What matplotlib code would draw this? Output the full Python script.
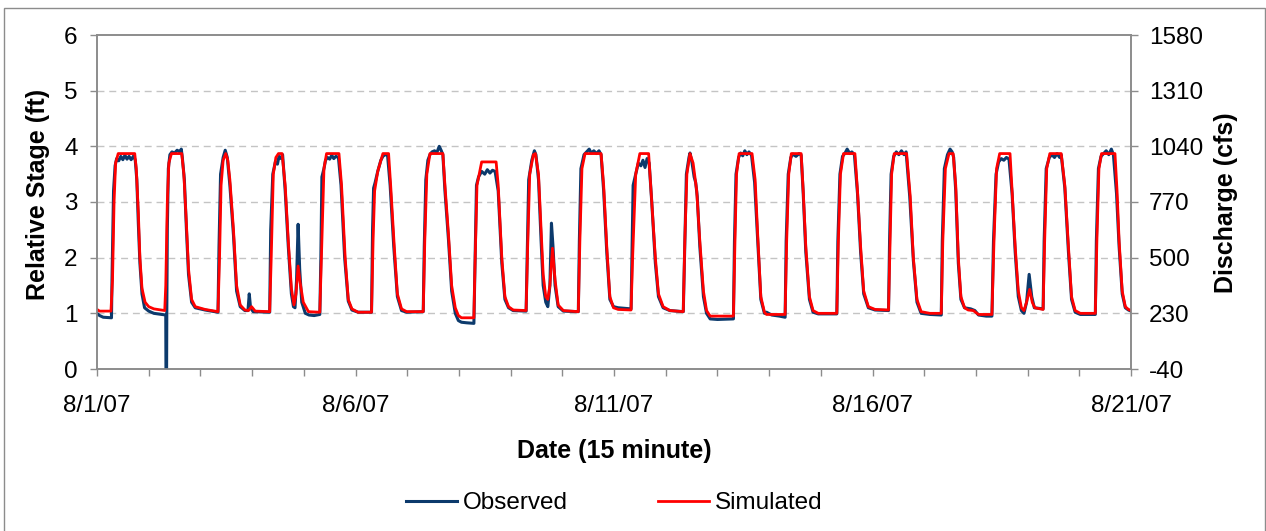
import numpy as np
import matplotlib
matplotlib.use("Agg")
import matplotlib.pyplot as plt
from matplotlib.patches import Rectangle

plt.rcParams['font.family'] = ['Liberation Sans', 'DejaVu Sans']
plt.rcParams['axes.unicode_minus'] = False

# Stage records, (day since 8/1/07, relative stage in ft)
observed = [
    (0.00, 1.00), (0.05, 0.96), (0.12, 0.93), (0.28, 0.92), (0.29, 1.6), (0.32, 3.2), (0.35, 3.65),
    (0.38, 3.78), (0.42, 3.74), (0.46, 3.82), (0.50, 3.76), (0.54, 3.84), (0.58, 3.77), (0.62, 3.82),
    (0.66, 3.76), (0.71, 3.83), (0.74, 3.75), (0.77, 3.4), (0.80, 2.6), (0.83, 1.9), (0.87, 1.35),
    (0.92, 1.1), (1.00, 1.04), (1.10, 1.0), (1.33, 0.97), (1.335, -0.3), (1.345, -0.3), (1.35, 1.0),
    (1.36, 2.5), (1.38, 3.6), (1.41, 3.85), (1.45, 3.9), (1.50, 3.88), (1.55, 3.93), (1.60, 3.9),
    (1.63, 3.95), (1.65, 3.8), (1.69, 3.4), (1.73, 2.5), (1.77, 1.7), (1.83, 1.2), (1.90, 1.1),
    (2.09, 1.06), (2.34, 1.02),
    (2.36, 2.2), (2.39, 3.5), (2.44, 3.8), (2.48, 3.93), (2.52, 3.8), (2.57, 3.3), (2.64, 2.4),
    (2.70, 1.4), (2.77, 1.12), (2.86, 1.05), (2.92, 1.05), (2.945, 1.35), (2.97, 1.1), (3.02, 1.03),
    (3.34, 1.02),
    (3.36, 2.5), (3.40, 3.5), (3.45, 3.72), (3.49, 3.68), (3.52, 3.82), (3.56, 3.78), (3.59, 3.85),
    (3.64, 3.2), (3.70, 2.2), (3.76, 1.35), (3.80, 1.12), (3.83, 1.1), (3.86, 1.6), (3.89, 2.6),
    (3.92, 1.8), (3.96, 1.2), (4.03, 1.0), (4.10, 0.97), (4.20, 0.96), (4.31, 0.98),
    (4.33, 2.0), (4.35, 3.45), (4.39, 3.6), (4.42, 3.75), (4.46, 3.8), (4.50, 3.77), (4.54, 3.84),
    (4.58, 3.78), (4.62, 3.82), (4.67, 3.8), (4.72, 3.3), (4.79, 2.0), (4.86, 1.22), (4.93, 1.06),
    (5.05, 1.02), (5.31, 1.02),
    (5.33, 2.5), (5.35, 3.25), (5.38, 3.35), (5.43, 3.55), (5.49, 3.75), (5.53, 3.82), (5.57, 3.85),
    (5.62, 3.84), (5.67, 3.3), (5.74, 2.2), (5.81, 1.3), (5.89, 1.05), (5.99, 1.02), (6.31, 1.03),
    (6.33, 2.2), (6.36, 3.4), (6.40, 3.75), (6.44, 3.85), (6.48, 3.9), (6.53, 3.92), (6.57, 3.88),
    (6.62, 4.0), (6.66, 3.92), (6.69, 3.85), (6.73, 3.2), (6.80, 2.3), (6.86, 1.4), (6.93, 1.0),
    (6.99, 0.87), (7.05, 0.84), (7.15, 0.83), (7.29, 0.82),
    (7.31, 1.8), (7.34, 3.3), (7.38, 3.45), (7.44, 3.55), (7.50, 3.5), (7.55, 3.58), (7.60, 3.52),
    (7.65, 3.57), (7.70, 3.55), (7.76, 3.2), (7.83, 1.9), (7.89, 1.25), (7.96, 1.1), (8.05, 1.05),
    (8.30, 1.04),
    (8.32, 2.0), (8.35, 3.4), (8.41, 3.75), (8.46, 3.92), (8.49, 3.85), (8.54, 3.4), (8.59, 2.3),
    (8.63, 1.5), (8.68, 1.2), (8.72, 1.12), (8.76, 1.5), (8.79, 2.62), (8.82, 2.2), (8.86, 1.5),
    (8.92, 1.12), (9.02, 1.04), (9.31, 1.03),
    (9.33, 2.3), (9.36, 3.6), (9.42, 3.85), (9.47, 3.9), (9.52, 3.95), (9.56, 3.88), (9.61, 3.92),
    (9.66, 3.87), (9.71, 3.92), (9.75, 3.85), (9.80, 3.2), (9.86, 2.1), (9.92, 1.25), (9.99, 1.12),
    (10.08, 1.1), (10.33, 1.08),
    (10.35, 2.2), (10.37, 3.3), (10.42, 3.5), (10.47, 3.7), (10.52, 3.65), (10.56, 3.75), (10.60, 3.62),
    (10.64, 3.78), (10.68, 3.7), (10.73, 3.0), (10.80, 1.9), (10.86, 1.3), (10.95, 1.1), (11.08, 1.05),
    (11.34, 1.03),
    (11.37, 2.3), (11.40, 3.5), (11.45, 3.8), (11.47, 3.88), (11.51, 3.7), (11.55, 3.45), (11.58, 3.35),
    (11.61, 3.1), (11.66, 2.2), (11.73, 1.3), (11.79, 1.0), (11.86, 0.9), (12.00, 0.89), (12.31, 0.9),
    (12.33, 2.3), (12.36, 3.5), (12.41, 3.8), (12.45, 3.88), (12.49, 3.83), (12.53, 3.92), (12.57, 3.85),
    (12.61, 3.9), (12.66, 3.84), (12.72, 3.35), (12.78, 2.3), (12.84, 1.25), (12.91, 1.0), (12.95, 1.02),
    (13.05, 0.97), (13.20, 0.95), (13.31, 0.93),
    (13.33, 2.3), (13.37, 3.5), (13.42, 3.8), (13.46, 3.86), (13.52, 3.82), (13.58, 3.87), (13.62, 3.84),
    (13.66, 3.15), (13.71, 2.1), (13.78, 1.25), (13.85, 1.02), (13.95, 0.99), (14.31, 0.99),
    (14.33, 2.3), (14.37, 3.5), (14.42, 3.82), (14.47, 3.88), (14.51, 3.95), (14.56, 3.87), (14.60, 3.9),
    (14.65, 3.85), (14.71, 3.15), (14.77, 2.1), (14.83, 1.35), (14.92, 1.1), (15.05, 1.06), (15.31, 1.05),
    (15.33, 2.3), (15.36, 3.5), (15.41, 3.82), (15.46, 3.9), (15.51, 3.85), (15.56, 3.92), (15.61, 3.85),
    (15.65, 3.9), (15.72, 3.1), (15.79, 1.95), (15.86, 1.2), (15.94, 1.0), (16.11, 0.98), (16.33, 0.97),
    (16.35, 2.3), (16.39, 3.6), (16.45, 3.85), (16.50, 3.95), (16.54, 3.9), (16.57, 3.8), (16.61, 3.2),
    (16.66, 1.9), (16.71, 1.25), (16.78, 1.1), (16.90, 1.08), (16.98, 1.05), (17.05, 0.97), (17.20, 0.95),
    (17.31, 0.95),
    (17.34, 2.3), (17.39, 3.5), (17.44, 3.72), (17.49, 3.78), (17.54, 3.75), (17.59, 3.8), (17.64, 3.77),
    (17.70, 3.15), (17.76, 2.1), (17.82, 1.3), (17.88, 1.05), (17.93, 1.0), (17.98, 1.2), (18.03, 1.7),
    (18.08, 1.3), (18.13, 1.1), (18.30, 1.08),
    (18.32, 2.3), (18.36, 3.6), (18.42, 3.8), (18.47, 3.85), (18.52, 3.8), (18.57, 3.87), (18.62, 3.8),
    (18.65, 3.85), (18.72, 3.25), (18.79, 2.1), (18.85, 1.25), (18.92, 1.02), (19.02, 0.98), (19.31, 0.98),
    (19.33, 2.3), (19.37, 3.6), (19.42, 3.82), (19.47, 3.87), (19.52, 3.92), (19.57, 3.85), (19.62, 3.95),
    (19.66, 3.85), (19.72, 3.15), (19.77, 2.2), (19.83, 1.35), (19.89, 1.1), (19.95, 1.06), (20.00, 1.04),
]

simulated = [
    (0.00, 1.07), (0.05, 1.04), (0.27, 1.04), (0.30, 1.6), (0.33, 3.0), (0.36, 3.7), (0.41, 3.87),
    (0.73, 3.87), (0.76, 3.6), (0.80, 2.8), (0.83, 2.0), (0.87, 1.45), (0.93, 1.2), (1.00, 1.12),
    (1.10, 1.08), (1.31, 1.05),
    (1.33, 1.5), (1.36, 3.0), (1.39, 3.7), (1.44, 3.87), (1.64, 3.87), (1.68, 3.5), (1.73, 2.6),
    (1.77, 1.8), (1.83, 1.25), (1.90, 1.12), (2.09, 1.07), (2.34, 1.03),
    (2.37, 2.0), (2.40, 3.3), (2.44, 3.75), (2.49, 3.87), (2.53, 3.75), (2.57, 3.4), (2.64, 2.5),
    (2.70, 1.5), (2.77, 1.15), (2.86, 1.06), (2.93, 1.05), (2.99, 1.12), (3.06, 1.04), (3.34, 1.03),
    (3.37, 2.0), (3.41, 3.5), (3.46, 3.8), (3.51, 3.87), (3.58, 3.87), (3.64, 3.3), (3.70, 2.3),
    (3.76, 1.45), (3.81, 1.15), (3.85, 1.35), (3.89, 1.85), (3.93, 1.55), (3.99, 1.2), (4.09, 1.03),
    (4.31, 1.02),
    (4.35, 2.3), (4.39, 3.6), (4.44, 3.87), (4.68, 3.87), (4.73, 3.3), (4.80, 2.0), (4.86, 1.25),
    (4.93, 1.08), (5.05, 1.02), (5.31, 1.02),
    (5.34, 2.3), (5.37, 3.2), (5.43, 3.55), (5.53, 3.87), (5.64, 3.87), (5.68, 3.3), (5.75, 2.2),
    (5.81, 1.35), (5.89, 1.08), (5.99, 1.03), (6.31, 1.03),
    (6.34, 2.3), (6.38, 3.5), (6.44, 3.87), (6.69, 3.87), (6.73, 3.3), (6.80, 2.4), (6.86, 1.5),
    (6.93, 1.1), (6.99, 0.96), (7.05, 0.92), (7.29, 0.92),
    (7.31, 1.8), (7.35, 3.3), (7.44, 3.72), (7.72, 3.72), (7.76, 3.3), (7.83, 2.0), (7.89, 1.3),
    (7.96, 1.12), (8.05, 1.06), (8.30, 1.05),
    (8.33, 2.2), (8.37, 3.5), (8.44, 3.85), (8.48, 3.87), (8.54, 3.5), (8.59, 2.5), (8.63, 1.7),
    (8.68, 1.3), (8.72, 1.25), (8.76, 1.5), (8.81, 2.17), (8.86, 1.6), (8.92, 1.15), (9.02, 1.05),
    (9.31, 1.03),
    (9.34, 2.3), (9.38, 3.6), (9.44, 3.87), (9.75, 3.87), (9.80, 3.3), (9.86, 2.2), (9.92, 1.3),
    (9.99, 1.1), (10.08, 1.07), (10.33, 1.06),
    (10.36, 2.0), (10.42, 3.5), (10.50, 3.87), (10.67, 3.87), (10.73, 3.0), (10.80, 2.0), (10.86, 1.35),
    (10.95, 1.12), (11.08, 1.05), (11.34, 1.03),
    (11.37, 2.3), (11.41, 3.5), (11.47, 3.87), (11.53, 3.7), (11.60, 3.2), (11.66, 2.3), (11.73, 1.4),
    (11.79, 1.05), (11.86, 0.95), (12.31, 0.95),
    (12.34, 2.3), (12.37, 3.5), (12.42, 3.87), (12.67, 3.87), (12.73, 3.4), (12.78, 2.4), (12.84, 1.3),
    (12.91, 1.02), (12.95, 0.98), (13.31, 0.98),
    (13.34, 2.3), (13.38, 3.5), (13.43, 3.87), (13.62, 3.87), (13.66, 3.2), (13.71, 2.2), (13.78, 1.3),
    (13.85, 1.05), (13.95, 1.0), (14.31, 1.0),
    (14.34, 2.3), (14.38, 3.5), (14.44, 3.87), (14.66, 3.87), (14.71, 3.2), (14.77, 2.2), (14.83, 1.4),
    (14.92, 1.12), (15.05, 1.07), (15.31, 1.06),
    (15.34, 2.3), (15.37, 3.5), (15.42, 3.87), (15.66, 3.87), (15.73, 3.1), (15.79, 2.0), (15.86, 1.25),
    (15.94, 1.03), (16.11, 1.0), (16.33, 1.0),
    (16.36, 2.3), (16.41, 3.6), (16.48, 3.87), (16.56, 3.87), (16.61, 3.3), (16.66, 2.0), (16.71, 1.3),
    (16.78, 1.1), (16.85, 1.06), (16.95, 1.05), (17.05, 0.98), (17.31, 0.98),
    (17.35, 2.3), (17.40, 3.6), (17.46, 3.87), (17.66, 3.87), (17.70, 3.2), (17.76, 2.2), (17.82, 1.4),
    (17.88, 1.1), (17.93, 1.05), (17.98, 1.2), (18.04, 1.43), (18.09, 1.2), (18.14, 1.1), (18.30, 1.07),
    (18.33, 2.3), (18.37, 3.6), (18.43, 3.87), (18.65, 3.87), (18.72, 3.3), (18.79, 2.2), (18.85, 1.3),
    (18.92, 1.05), (19.02, 1.0), (19.31, 1.0),
    (19.34, 2.3), (19.38, 3.6), (19.43, 3.87), (19.69, 3.87), (19.73, 3.2), (19.77, 2.3), (19.83, 1.4),
    (19.89, 1.12), (19.95, 1.07), (20.00, 1.05),
]

date_ticks = [0, 5, 10, 15, 20]
date_labels = ['8/1/07', '8/6/07', '8/11/07', '8/16/07', '8/21/07']
stage_ticks = [0, 1, 2, 3, 4, 5, 6]
discharge_ticks = [-40, 230, 500, 770, 1040, 1310, 1580]

W, H = 1266, 531
fig = plt.figure(figsize=(W / 100, H / 100), dpi=100)
fig.patches.append(Rectangle((4 / W, -0.02), (1265 - 4) / W, 1.02 - 8 / H,
                             transform=fig.transFigure, fill=False,
                             edgecolor='#8c8c8c', lw=1.0))

ax = fig.add_axes([97 / W, 1 - 369 / H, (1131 - 97) / W, (369 - 35) / H])

obs_t, obs_v = np.array(observed).T
sim_t, sim_v = np.array(simulated).T
ax.plot(obs_t, obs_v, color='#0c3a6c', lw=2.2, label='Observed', zorder=3)
ax.plot(sim_t, sim_v, color='#ff0000', lw=2.0, label='Simulated', zorder=4)

ax.set_xlim(0, 20)
ax.set_ylim(0, 6)
ax.set_xticks(date_ticks)
ax.set_xticklabels(date_labels)
ax.set_xticks(np.arange(0, 21), minor=True)
ax.set_yticks(stage_ticks)

for v in stage_ticks[1:-1]:
    ax.axhline(v, color='#c4c4c4', lw=1.0, ls=(0, (5, 3.5)), zorder=1)

gray = '#8c8c8c'
for s in ax.spines.values():
    s.set_color(gray)
    s.set_linewidth(1.2)

ax.tick_params(axis='y', which='both', direction='out', length=5, width=1,
               color=gray, labelsize=17.5, pad=9)
ax.tick_params(axis='x', which='both', direction='out', length=5, width=1,
               color=gray, labelsize=17.5, pad=14)

ax.set_xlabel('Date (15 minute)', fontsize=18, fontweight='bold')
ax.xaxis.set_label_coords(0.5, -0.209)
ax.set_ylabel('Relative Stage (ft)', fontsize=18, fontweight='bold')
ax.yaxis.set_label_coords(-0.045, 0.524)

ax2 = ax.twinx()
ax2.set_ylim(-40, 1580)
ax2.set_yticks(discharge_ticks)
for s in ax2.spines.values():
    s.set_color(gray)
    s.set_linewidth(1.2)
ax2.tick_params(axis='y', direction='out', length=5, width=1, color=gray,
                labelsize=17.5, pad=8)
ax2.set_ylabel('Discharge (cfs)', fontsize=18, fontweight='bold')
ax2.yaxis.set_label_coords(1.0805, 0.497)

handles, labels = ax.get_legend_handles_labels()
fig.legend(handles, labels, loc='center', bbox_to_anchor=(614 / W, 1 - 503 / H),
           ncol=2, frameon=False, fontsize=17.5, handlelength=2.1,
           handletextpad=0.25, columnspacing=3.7)

fig.savefig('out.png', dpi=100)
